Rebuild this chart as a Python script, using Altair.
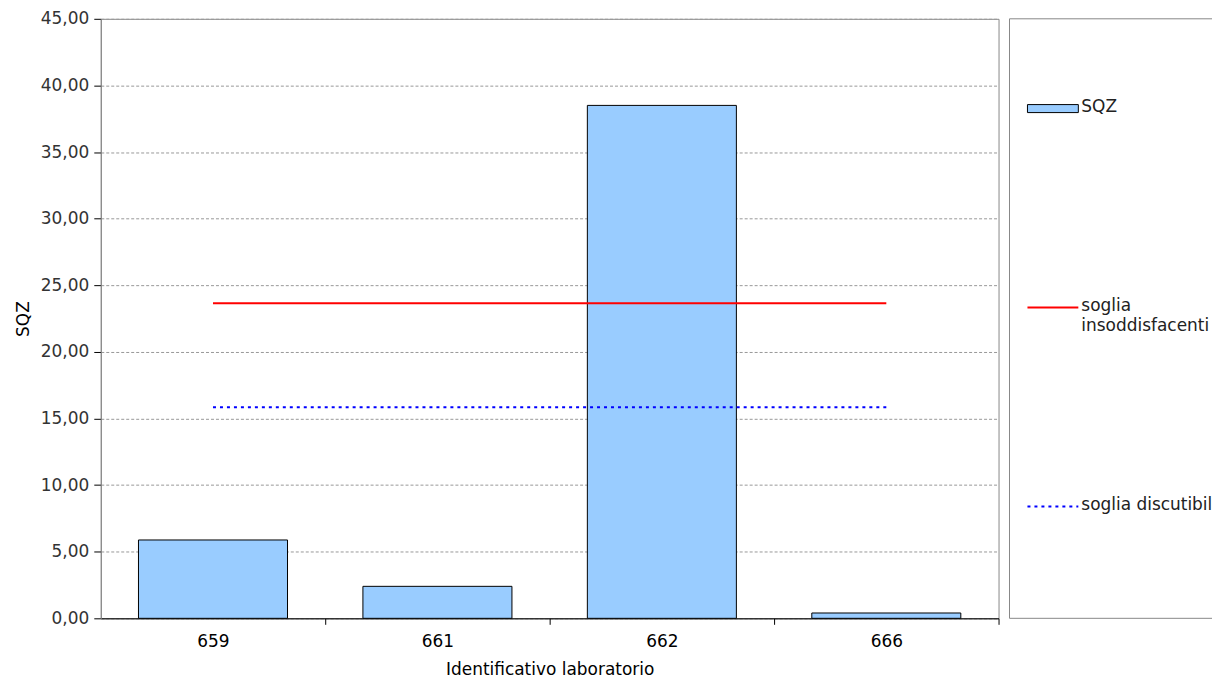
import altair as alt
import pandas as pd

# ---- data ----
labs = ["659", "661", "662", "666"]
sqz = [5.88, 2.40, 38.50, 0.40]
threshold_names = ["soglia insoddisfacenti", "soglia discutibil"]
threshold_values = [23.65, 15.85]
y_ticks = [0, 5, 10, 15, 20, 25, 30, 35, 40, 45]
legend_keys = ["SQZ", "soglia insoddisfacenti", "soglia discutibil"]
legend_texts = ["SQZ", "soglia\ninsoddisfacenti", "soglia discutibil"]

FONT = "DejaVu Sans"
FS = 17
W, H = 900, 601
LW = 203
HALF_STEP = W / len(labs) / 2

bars_df = pd.DataFrame({"lab": labs, "sqz": sqz})
thr_df = pd.DataFrame({
    "name": threshold_names,
    "value": threshold_values,
    "start": [labs[0]] * len(threshold_names),
    "end": [labs[-1]] * len(threshold_names),
})
leg_df = pd.DataFrame({"key": legend_keys, "text": legend_texts})

x_enc = alt.X(
    "lab:N", sort=labs,
    scale=alt.Scale(paddingInner=0.336, paddingOuter=0.168),
    axis=alt.Axis(
        title="Identificativo laboratorio", labelAngle=0,
        tickOffset=HALF_STEP, labelOffset=-HALF_STEP,
        grid=False, domainColor="black", tickColor="black", tickSize=6,
        labelPadding=9, titlePadding=12, labelFontSize=FS, titleFontSize=FS,
        titleFontWeight="normal", labelColor="black", titleColor="black",
        labelFont=FONT, titleFont=FONT,
    ),
)
y_axis = alt.Axis(
    title="SQZ", values=y_ticks,
    labelExpr="replace(format(datum.value, '.2f'), '.', ',')",
    grid=True, gridDash=[3, 2], gridColor="#999999", domainColor="#888888",
    tickColor="black", tickSize=7, labelPadding=5, titlePadding=8,
    labelFontSize=FS, titleFontSize=FS, titleFontWeight="normal",
    labelColor="#333333", titleColor="black", labelFont=FONT, titleFont=FONT,
)
y_scale = alt.Scale(domain=[0, 45], nice=False)

bars = alt.Chart(bars_df).mark_bar(
    fill="#99CCFF", stroke="black", strokeWidth=1
).encode(
    x=x_enc,
    y=alt.Y("sqz:Q", scale=y_scale, axis=y_axis),
)

red = alt.Chart(thr_df).transform_filter(
    alt.datum.name == threshold_names[0]
).mark_rule(color="#FF0000", strokeWidth=2).encode(
    x=alt.X("start:N", sort=labs),
    x2="end:N",
    y=alt.Y("value:Q", scale=y_scale),
)
blue = alt.Chart(thr_df).transform_filter(
    alt.datum.name == threshold_names[1]
).mark_rule(color="#0000FF", strokeWidth=2, strokeDash=[3, 4]).encode(
    x=alt.X("start:N", sort=labs),
    x2="end:N",
    y=alt.Y("value:Q", scale=y_scale),
)

main = alt.layer(bars, red, blue).properties(
    width=W, height=H, view=alt.ViewBackground(stroke="#888888")
)

# ---- legend panel ----
ly = alt.Y("key:N", sort=legend_keys,
           scale=alt.Scale(type="point", range=[90, 489], padding=0), axis=None)

leg_base = alt.Chart(leg_df)
sym_bar = leg_base.transform_filter(alt.datum.key == legend_keys[0]).mark_point(
    shape="M-1,-0.157L1,-0.157L1,0.157L-1,0.157Z", size=2601, filled=True,
    fill="#99CCFF", stroke="black", strokeWidth=1, opacity=1,
).encode(x=alt.value(43.5), y=ly)
sym_red = leg_base.transform_filter(alt.datum.key == legend_keys[1]).mark_rule(
    color="#FF0000", strokeWidth=2
).encode(x=alt.value(18), x2=alt.value(69), y=ly)
sym_blue = leg_base.transform_filter(alt.datum.key == legend_keys[2]).mark_rule(
    color="#0000FF", strokeWidth=2, strokeDash=[3, 4]
).encode(x=alt.value(18), x2=alt.value(69), y=ly)
texts = leg_base.mark_text(
    align="left", baseline="top", dy=-10, fontSize=FS, font=FONT,
    lineBreak="\n", lineHeight=20, color="#222222",
).encode(x=alt.value(72), y=ly, text="text:N")

frame_df = pd.DataFrame({"k": [0]})
frame = alt.Chart(frame_df)
edge_top = frame.mark_rule(color="#888888", strokeWidth=1).encode(
    x=alt.value(0), x2=alt.value(LW), y=alt.value(0))
edge_bottom = frame.mark_rule(color="#888888", strokeWidth=1).encode(
    x=alt.value(0), x2=alt.value(LW), y=alt.value(H))
edge_left = frame.mark_rule(color="#888888", strokeWidth=1).encode(
    x=alt.value(0), y=alt.value(0), y2=alt.value(H))

legend_panel = alt.layer(
    edge_top, edge_bottom, edge_left, sym_bar, sym_red, sym_blue, texts
).properties(width=LW, height=H, view=alt.ViewBackground(stroke="transparent"))

chart = alt.hconcat(main, legend_panel, spacing=9).properties(
    padding={"left": 5, "top": 0, "right": 0, "bottom": 0}
).configure(font=FONT).configure_view(stroke="transparent")

chart.save("out.html", embed_options={"renderer": "svg", "actions": False})
